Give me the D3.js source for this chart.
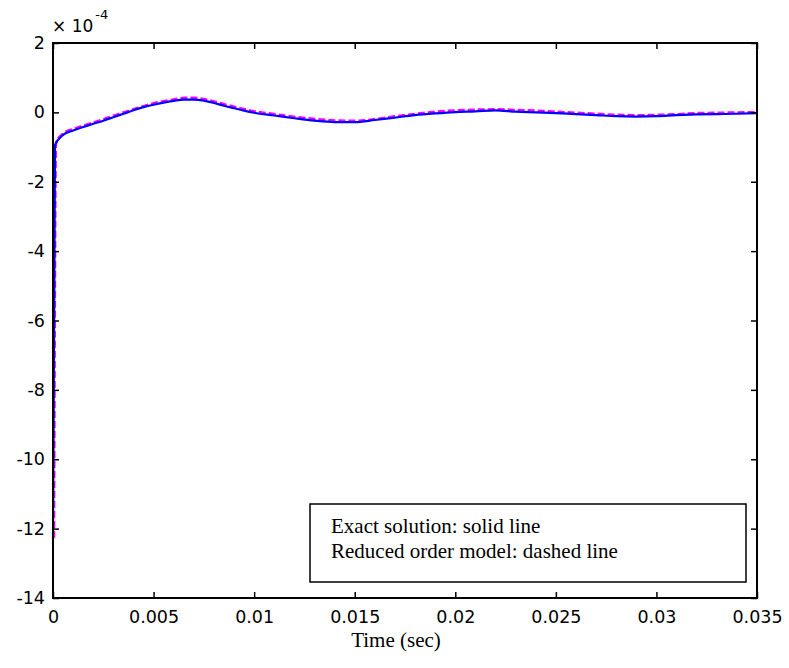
<!DOCTYPE html>
<html>
<head>
<meta charset="utf-8">
<script src="https://cdn.jsdelivr.net/npm/d3@7"></script>
<style>
  body { margin: 0; background: #fff; }
  .tick text { font-family: 'DejaVu Sans', sans-serif; font-size: 17.5px; fill: #000; }
  .serif { font-family: 'Liberation Serif', 'Times New Roman', serif; font-size: 21px; fill: #000; }
</style>
</head>
<body>
<svg width="789" height="668"></svg>
<script>
// time in seconds, response in units of 1e-4
const timeValues = [0, 0.0001, 0.0005, 0.001, 0.0015, 0.002, 0.0025, 0.003, 0.0035, 0.004,
  0.0045, 0.005, 0.0055, 0.006, 0.0065, 0.007, 0.0075, 0.008, 0.0085, 0.009, 0.0095,
  0.010, 0.011, 0.012, 0.013, 0.014, 0.015, 0.016, 0.017, 0.018, 0.019, 0.020, 0.021,
  0.022, 0.023, 0.024, 0.025, 0.026, 0.027, 0.028, 0.029, 0.030, 0.031, 0.032, 0.033,
  0.034, 0.035];

const exactValues = [-12.3, -0.95, -0.65, -0.52, -0.42, -0.33, -0.24, -0.14, -0.04, 0.06,
  0.15, 0.22, 0.28, 0.33, 0.37, 0.37, 0.34, 0.27, 0.19, 0.12, 0.05,
  -0.01, -0.09, -0.17, -0.24, -0.28, -0.28, -0.22, -0.15, -0.08, -0.03, 0.01, 0.03,
  0.06, 0.02, 0.0, -0.02, -0.05, -0.08, -0.11, -0.12, -0.11, -0.08, -0.06, -0.05,
  -0.04, -0.02];

const reducedValues = [-12.3, -0.9, -0.62, -0.5, -0.4, -0.31, -0.22, -0.12, -0.02, 0.07,
  0.16, 0.24, 0.3, 0.35, 0.39, 0.39, 0.35, 0.28, 0.2, 0.13, 0.06,
  0.0, -0.08, -0.16, -0.22, -0.26, -0.27, -0.22, -0.14, -0.07, -0.01, 0.03, 0.05,
  0.06, 0.04, 0.02, -0.01, -0.04, -0.07, -0.1, -0.11, -0.1, -0.08, -0.05, -0.04,
  -0.03, -0.02];

const xTicks = [0, 0.005, 0.01, 0.015, 0.02, 0.025, 0.03, 0.035];
const yTicks = [-14, -12, -10, -8, -6, -4, -2, 0, 2];

const legendLines = ['Exact solution: solid line', 'Reduced order model: dashed line'];
const xAxisLabel = 'Time (sec)';

const svg = d3.select('svg');
const margin = { top: 43, right: 32, bottom: 70, left: 53 };
const width = +svg.attr('width');
const height = +svg.attr('height');
const innerWidth = width - margin.left - margin.right;
const innerHeight = height - margin.top - margin.bottom;

const xScale = d3.scaleLinear().domain([0, 0.035]).range([0, innerWidth]);
const yScale = d3.scaleLinear().domain([-14, 2]).range([innerHeight, 0]);

const g = svg.append('g')
  .attr('transform', `translate(${margin.left},${margin.top})`);

const exactData = timeValues.map((t, i) => ({ t, v: exactValues[i] }));
const reducedData = timeValues.map((t, i) => ({ t, v: reducedValues[i] }));

const line = d3.line()
  .x(d => xScale(d.t))
  .y(d => yScale(d.v))
  .curve(d3.curveMonotoneX);

// reduced order model (dashed, magenta) underneath
g.append('path')
  .datum(reducedData)
  .attr('fill', 'none')
  .attr('stroke', '#ff00ff')
  .attr('stroke-width', 2.5)
  .attr('stroke-dasharray', '7,3')
  .attr('transform', 'translate(1,-1)')
  .attr('d', line);

// exact solution (solid, blue)
g.append('path')
  .datum(exactData)
  .attr('fill', 'none')
  .attr('stroke', '#0000ff')
  .attr('stroke-width', 2.2)
  .attr('d', line);

// axes, MATLAB style box with inward ticks
const fmt = d => String(d);

const xAxisG = g.append('g')
  .attr('transform', `translate(0,${innerHeight})`)
  .call(d3.axisBottom(xScale).tickValues(xTicks).tickFormat(fmt).tickSize(-6).tickPadding(13));

const yAxisG = g.append('g')
  .call(d3.axisLeft(yScale).tickValues(yTicks).tickFormat(fmt).tickSize(-6).tickPadding(8));

const topAxisG = g.append('g')
  .call(d3.axisTop(xScale).tickValues(xTicks).tickFormat('').tickSize(-6));

const rightAxisG = g.append('g')
  .attr('transform', `translate(${innerWidth},0)`)
  .call(d3.axisRight(yScale).tickValues(yTicks).tickFormat('').tickSize(-6));

[xAxisG, yAxisG, topAxisG, rightAxisG].forEach(a => {
  a.selectAll('.domain').remove();
  a.selectAll('.tick line').attr('stroke', '#000').attr('stroke-width', 1.5);
});

g.append('rect')
  .attr('width', innerWidth)
  .attr('height', innerHeight)
  .attr('fill', 'none')
  .attr('stroke', '#000')
  .attr('stroke-width', 2);

// exponent label
const expText = svg.append('text')
  .attr('x', 52)
  .attr('y', 32)
  .attr('font-family', 'DejaVu Sans, sans-serif')
  .attr('font-size', 17)
  .attr('fill', '#000');
expText.append('tspan').text('× 10');
expText.append('tspan')
  .attr('dy', -13)
  .attr('dx', 2)
  .attr('font-size', 13)
  .text('-4');

// legend box
const legendG = svg.append('g');
legendG.append('rect')
  .attr('x', 310)
  .attr('y', 504)
  .attr('width', 436)
  .attr('height', 78)
  .attr('fill', '#fff')
  .attr('stroke', '#000')
  .attr('stroke-width', 1.5);
legendG.selectAll('text').data(legendLines)
  .enter().append('text')
    .attr('class', 'serif')
    .attr('x', 331)
    .attr('y', (d, i) => 533 + i * 25)
    .text(d => d);

svg.append('text')
  .attr('class', 'serif')
  .attr('x', 396)
  .attr('y', 647)
  .attr('text-anchor', 'middle')
  .text(xAxisLabel);
</script>
</body>
</html>
